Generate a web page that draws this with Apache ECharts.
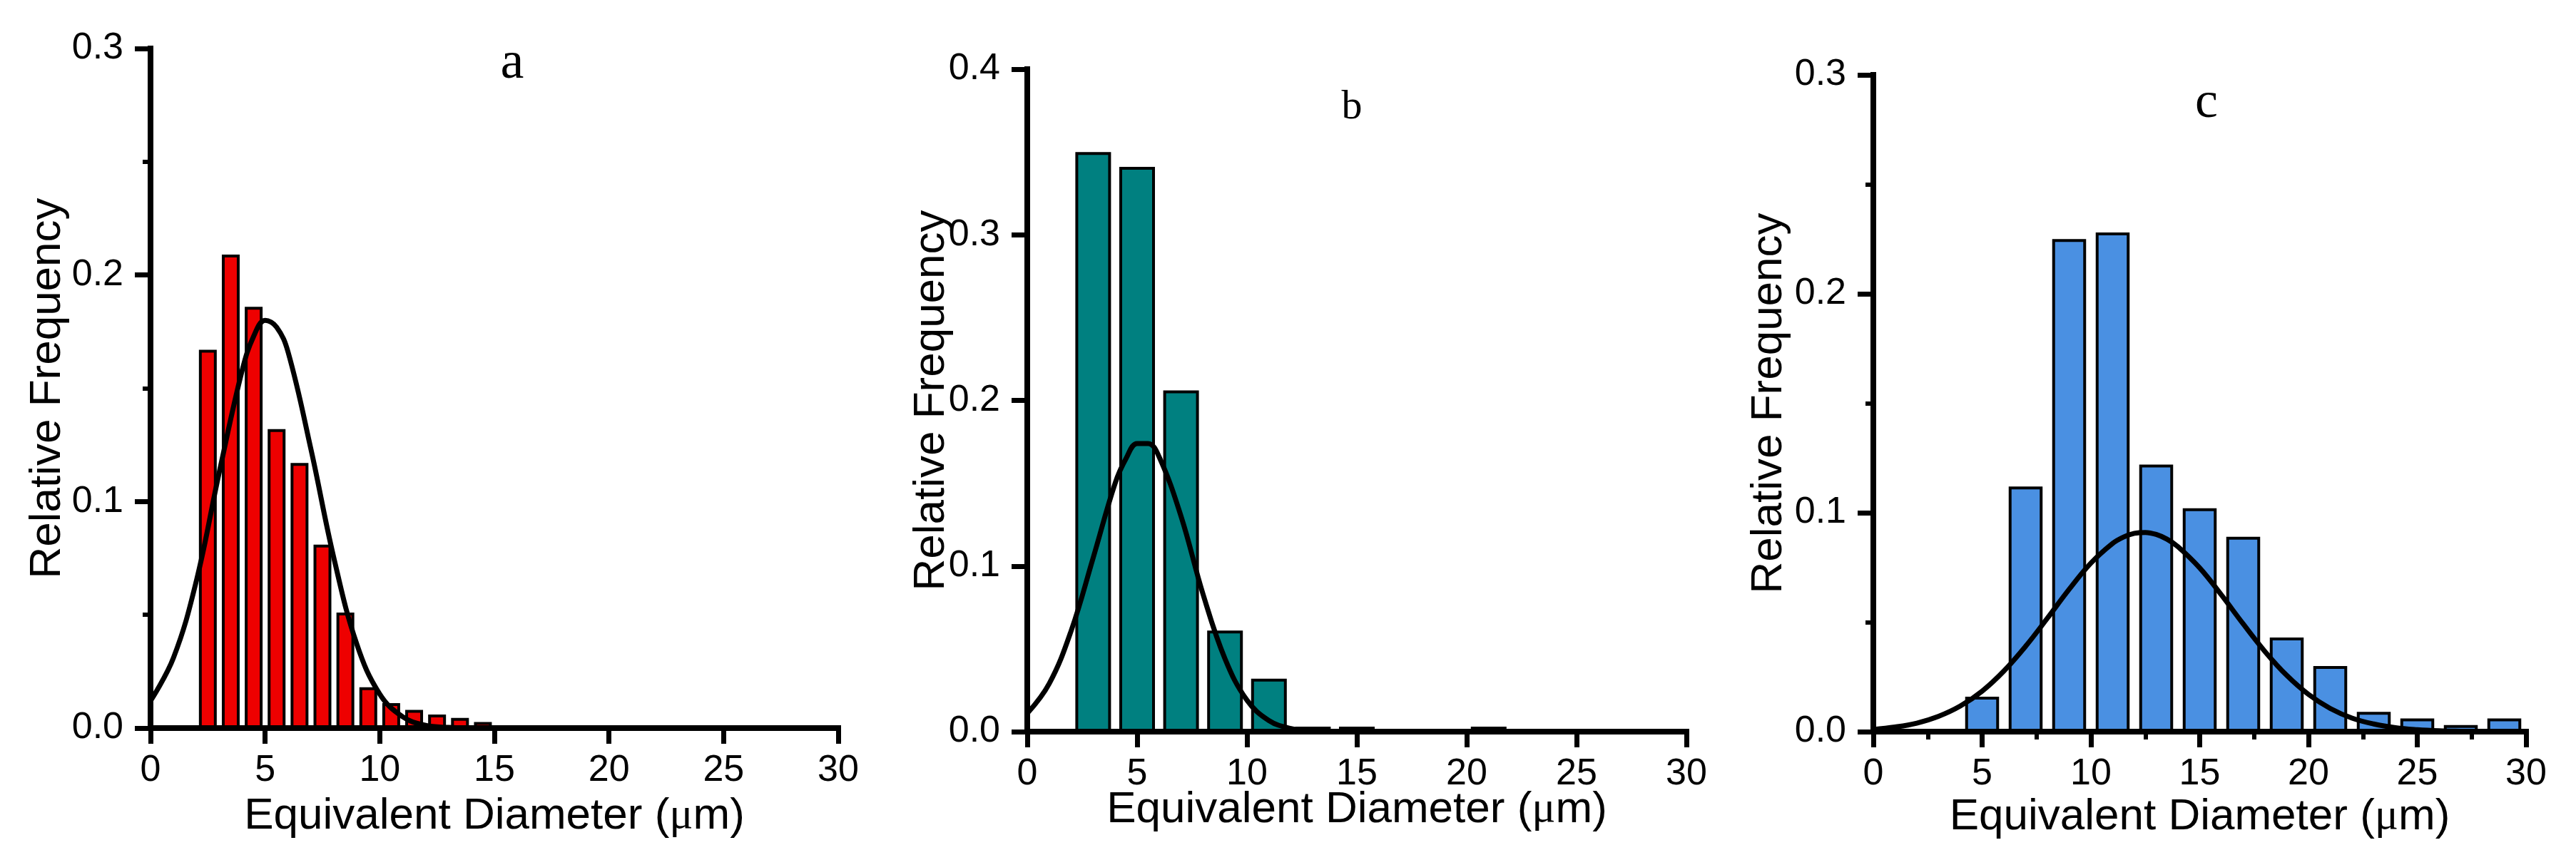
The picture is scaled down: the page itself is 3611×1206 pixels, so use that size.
<!DOCTYPE html>
<html>
<head>
<meta charset="utf-8">
<script src="https://cdn.jsdelivr.net/npm/echarts@6/dist/echarts.min.js"></script>
<style>
  html, body { margin: 0; padding: 0; background: #fff; }
  #chart { width: 3611px; height: 1206px; }
</style>
</head>
<body>
<div id="chart"></div>
<script>
// histogram bins (centre, um) and relative frequency
const binsA = [2.5, 3.5, 4.5, 5.5, 6.5, 7.5, 8.5, 9.5, 10.5, 11.5, 12.5, 13.5, 14.5];
const freqA = [0.167, 0.209, 0.186, 0.132, 0.117, 0.081, 0.051, 0.018, 0.011, 0.008, 0.006, 0.0045, 0.0027];

const binsB = [3, 5, 7, 9, 11, 13, 15, 21];
const freqB = [0.350, 0.341, 0.206, 0.061, 0.032, 0.003, 0.003, 0.003];

const binsC = [5, 7, 9, 11, 13, 15, 17, 19, 21, 23, 25, 27, 29];
const freqC = [0.016, 0.112, 0.225, 0.228, 0.122, 0.102, 0.089, 0.043, 0.030, 0.009, 0.006, 0.003, 0.006];

// fitted normal curves, sampled by eye from the plot
const fitXA = [0, 1, 2, 3, 4, 4.5, 5, 5.5, 6, 7, 8, 9, 10, 11, 12, 13, 14, 30];
const fitA  = [0.012, 0.031, 0.065, 0.113, 0.158, 0.173, 0.180, 0.177, 0.166, 0.123, 0.075, 0.037, 0.015, 0.005, 0.0012, 0.0003, 0, 0];

const fitXB = [0, 1, 2, 3, 4, 4.5, 5, 5.5, 6, 7, 8, 9, 10, 11, 12, 13, 14, 30];
const fitB  = [0.011, 0.029, 0.061, 0.105, 0.150, 0.165, 0.174, 0.174, 0.166, 0.130, 0.083, 0.044, 0.019, 0.0067, 0.0019, 0.0005, 0.0001, 0];

const fitXC = [0, 1, 2, 3, 4, 5, 6, 7, 8, 9, 10, 11, 11.5, 12, 12.5, 13, 13.5, 14, 15, 16, 17, 18, 19, 20,
               21, 22, 23, 24, 25, 26, 27, 28, 30];
const fitC  = [0.001, 0.0021, 0.0039, 0.007, 0.0117, 0.0185, 0.0277, 0.039, 0.0518, 0.065, 0.077, 0.086, 0.0889, 0.0906, 0.091, 0.0901, 0.0879,
               0.0845, 0.0748, 0.0624, 0.0492, 0.0366, 0.0257, 0.017, 0.0106, 0.0062, 0.0035, 0.0018, 0.0009, 0.0004, 0.0002, 0.0001, 0];

// axis ranges
const xMax = 30, xStep = 5;
const yMaxA = 0.3, yMaxB = 0.4, yMaxC = 0.3, yStep = 0.1;

const sans = '"Liberation Sans", Arial, sans-serif';
const serif = '"Liberation Serif", "Times New Roman", serif';

const zip = (xs, ys) => xs.map((x, i) => [x, ys[i]]);

const chart = echarts.init(document.getElementById('chart'), null, { renderer: 'canvas' });

// panel layout: [left, top, width, height]
const panels = [
  { box: [211, 68, 964, 953], yMax: yMaxA, yMinor: true, xMinor: false, xGap: 93, yGap: 113,
    color: '#ee0000', barW: 25, bins: binsA, freq: freqA, fx: fitXA, fy: fitA },
  { box: [1440, 97, 924, 929], yMax: yMaxB, yMinor: false, xMinor: false, xGap: 79, yGap: 103,
    color: '#008080', barW: 50, bins: binsB, freq: freqB, fx: fitXB, fy: fitB },
  { box: [2626, 105, 915, 921], yMax: yMaxC, yMinor: true, xMinor: true, xGap: 89, yGap: 115,
    color: '#4a90e2', barW: 47.5, bins: binsC, freq: freqC, fx: fitXC, fy: fitC }
];

const axisLine = () => ({ show: true, onZero: false, lineStyle: { color: '#000', width: 8, cap: 'square' } });
const tick = () => ({ show: true, length: 22, lineStyle: { color: '#000', width: 7 } });
const minor = show => ({ show: show, splitNumber: 2, length: 11, lineStyle: { color: '#000', width: 6 } });

const grids = [], xAxes = [], yAxes = [], series = [];
panels.forEach((p, i) => {
  grids.push({ left: p.box[0], top: p.box[1], width: p.box[2], height: p.box[3], containLabel: false, outerBoundsMode: 'none' });
  xAxes.push({
    type: 'value', gridIndex: i, min: 0, max: xMax, interval: xStep, z: 5,
    name: 'Equivalent Diameter ({mu|μ}m)', nameLocation: 'middle', nameGap: p.xGap, nameMoveOverlap: false,
    nameTextStyle: { fontFamily: sans, fontSize: 62, color: '#000',
      rich: { mu: { fontFamily: serif, fontSize: 62, color: '#000' } } },
    axisLine: axisLine(), axisTick: tick(), minorTick: minor(p.xMinor),
    axisLabel: { fontFamily: sans, fontSize: 52, color: '#000', margin: 34 },
    splitLine: { show: false }, minorSplitLine: { show: false }
  });
  yAxes.push({
    type: 'value', gridIndex: i, min: 0, max: p.yMax, interval: yStep, z: 5,
    name: 'Relative Frequency', nameLocation: 'middle', nameGap: p.yGap, nameMoveOverlap: false,
    nameTextStyle: { fontFamily: sans, fontSize: 62, color: '#000' },
    axisLine: axisLine(), axisTick: tick(), minorTick: minor(p.yMinor),
    axisLabel: { fontFamily: sans, fontSize: 52, color: '#000', margin: 38, formatter: v => v.toFixed(1) },
    splitLine: { show: false }, minorSplitLine: { show: false }
  });
  series.push({
    type: 'bar', xAxisIndex: i, yAxisIndex: i, barWidth: p.barW,
    data: zip(p.bins, p.freq),
    itemStyle: { color: p.color, borderColor: '#000', borderWidth: 4 },
    animation: false
  });
  series.push({
    type: 'line', xAxisIndex: i, yAxisIndex: i, smooth: 0.4, showSymbol: false,
    data: zip(p.fx, p.fy), clip: false, z: 3,
    lineStyle: { color: '#000', width: 7 },
    animation: false
  });
});

chart.setOption({
  backgroundColor: '#fff',
  animation: false,
  grid: grids,
  xAxis: xAxes,
  yAxis: yAxes,
  series: series,
  graphic: [
    { type: 'text', x: 718, y: 90, style: { text: 'a', fontFamily: serif, fontSize: 74, fill: '#000', align: 'center', verticalAlign: 'middle' } },
    { type: 'text', x: 1895, y: 151, style: { text: 'b', fontFamily: serif, fontSize: 58, fill: '#000', align: 'center', verticalAlign: 'middle' } },
    { type: 'text', x: 3093, y: 145, style: { text: 'c', fontFamily: serif, fontSize: 72, fill: '#000', align: 'center', verticalAlign: 'middle' } }
  ]
});
</script>
</body>
</html>
